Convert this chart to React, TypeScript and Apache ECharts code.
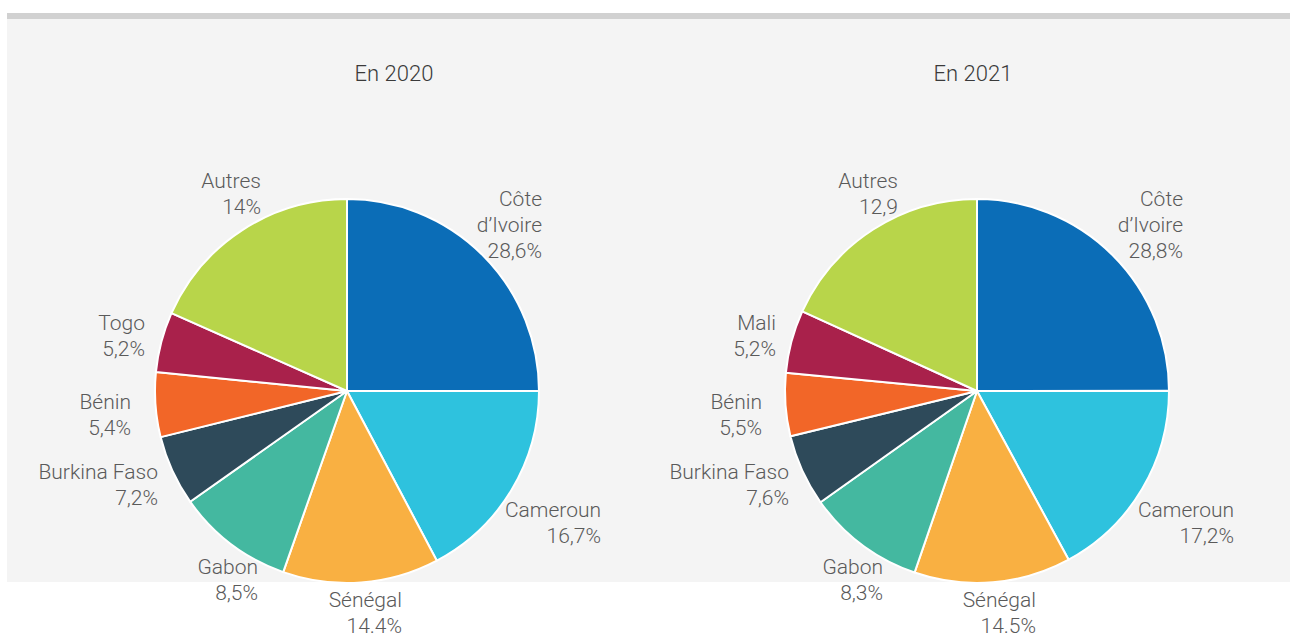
import React, { useEffect, useRef } from "react";
import * as echarts from "echarts";

// ---- Data ----
const categories2020 = ["Côte d’Ivoire", "Cameroun", "Sénégal", "Gabon", "Burkina Faso", "Bénin", "Togo", "Autres"];
const labelNames2020 = ["Côte\nd’Ivoire", "Cameroun", "Sénégal", "Gabon", "Burkina Faso", "Bénin", "Togo", "Autres"];
const labelShares2020 = ["28,6%", "16,7%", "14.4%", "8,5%", "7,2%", "5,4%", "5,2%", "14%"];
const sliceShares2020 = [25.0, 17.25, 13.14, 9.83, 5.92, 5.44, 5.06, 18.36];

const categories2021 = ["Côte d’Ivoire", "Cameroun", "Sénégal", "Gabon", "Burkina Faso", "Bénin", "Mali", "Autres"];
const labelNames2021 = ["Côte\nd’Ivoire", "Cameroun", "Sénégal", "Gabon", "Burkina Faso", "Bénin", "Mali", "Autres"];
const labelShares2021 = ["28,8%", "17,2%", "14.5%", "8,3%", "7,6%", "5,5%", "5,2%", "12,9"];
const sliceShares2021 = [25.0, 17.1, 13.2, 9.9, 6.05, 5.3, 5.3, 18.2];

const titles = ["En 2020", "En 2021"];

const colors = ["#0b6db7", "#2ec2de", "#f9b042", "#44b8a0", "#2e4a5a", "#f26628", "#a9214b", "#b8d54a"];

// ---- Layout (positions only) ----
const pieCenters = [[347, 391], [977, 391]];
const pieRadius = 192;
const titlePos = [[394, 73], [973, 73]];
const labelPos2020 = [[542, 225], [601, 523], [402, 613], [258, 580], [158, 485], [131, 415], [145, 336], [261, 194]];
const labelPos2021 = [[1183, 225], [1234, 523], [1036, 613], [883, 580], [789, 485], [762, 415], [776, 336], [898, 194]];

const FONT = "Roboto, 'Noto Sans', sans-serif";

function buildData(cats: string[], names: string[], shares: string[], values: number[]) {
  return cats.map((c, i) => ({
    name: c,
    value: values[i],
    label: { formatter: names[i] + "\n" + shares[i] },
    itemStyle: { color: colors[i] },
  }));
}

function pieSeries(idx: number, data: any[], pos: number[][]) {
  return {
    type: "pie",
    name: titles[idx],
    center: pieCenters[idx],
    radius: pieRadius,
    startAngle: 90,
    clockwise: true,
    avoidLabelOverlap: false,
    silent: true,
    itemStyle: { borderColor: "#ffffff", borderWidth: 2 },
    label: {
      show: true,
      position: "outside",
      color: "#5a5a5a",
      fontFamily: FONT,
      fontSize: 21,
      fontWeight: 300,
      lineHeight: 26,
      align: "right",
    },
    labelLine: { show: false },
    labelLayout: (p: any) => ({
      x: pos[p.dataIndex][0],
      y: pos[p.dataIndex][1],
      align: "right",
      verticalAlign: "middle",
    }),
    data,
  };
}

export default function App() {
  const ref = useRef<HTMLDivElement>(null);
  useEffect(() => {
    document.body.style.margin = "0";
    if (!ref.current) return;
    const chart = echarts.init(ref.current, undefined, { renderer: "svg" });
    chart.setOption({
      animation: false,
      backgroundColor: "#ffffff",
      graphic: [
        { type: "rect", z: -10, shape: { x: 7, y: 13, width: 1283, height: 6 }, style: { fill: "#d1d1d1" }, silent: true },
        { type: "rect", z: -10, shape: { x: 7, y: 19, width: 1283, height: 563 }, style: { fill: "#f4f4f4" }, silent: true },
        ...titles.map((t, i) => ({
          type: "text",
          x: titlePos[i][0],
          y: titlePos[i][1],
          style: {
            text: t,
            align: "center",
            verticalAlign: "middle",
            fill: "#3a3a3a",
            font: `300 22px ${FONT}`,
          },
          silent: true,
        })),
      ],
      series: [
        pieSeries(0, buildData(categories2020, labelNames2020, labelShares2020, sliceShares2020), labelPos2020),
        pieSeries(1, buildData(categories2021, labelNames2021, labelShares2021, sliceShares2021), labelPos2021),
      ],
    });
    return () => chart.dispose();
  }, []);
  return <div ref={ref} style={{ width: 1290, height: 637 }} />;
}
